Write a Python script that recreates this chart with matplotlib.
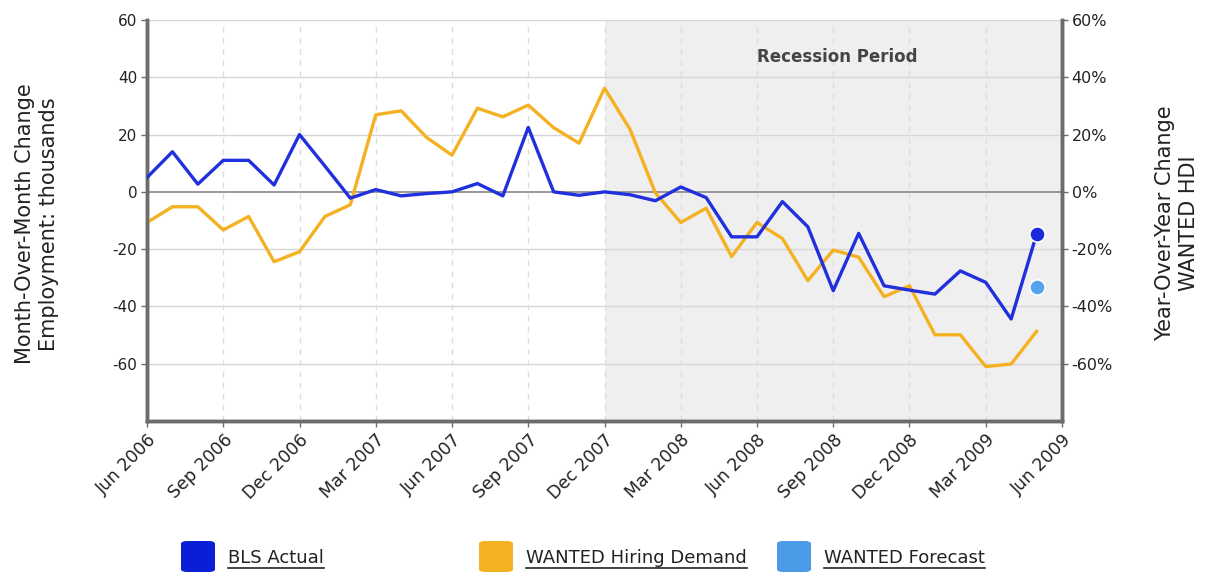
import numpy as np
import matplotlib
matplotlib.use('Agg')
import matplotlib.pyplot as plt
from matplotlib.patches import FancyBboxPatch
from matplotlib.lines import Line2D

# ── Datos (Jun 2006 .. May 2009, mensual) ──────────────────────
months = ['Jun 2006', 'Jul 2006', 'Aug 2006', 'Sep 2006', 'Oct 2006', 'Nov 2006',
          'Dec 2006', 'Jan 2007', 'Feb 2007', 'Mar 2007', 'Apr 2007', 'May 2007',
          'Jun 2007', 'Jul 2007', 'Aug 2007', 'Sep 2007', 'Oct 2007', 'Nov 2007',
          'Dec 2007', 'Jan 2008', 'Feb 2008', 'Mar 2008', 'Apr 2008', 'May 2008',
          'Jun 2008', 'Jul 2008', 'Aug 2008', 'Sep 2008', 'Oct 2008', 'Nov 2008',
          'Dec 2008', 'Jan 2009', 'Feb 2009', 'Mar 2009', 'Apr 2009', 'May 2009']

bls_actual = [5, 14, 2.7, 11, 11, 2.4, 20, 9, -2.2, 0.8, -1.4, -0.6,
              0, 2.9, -1.4, 22.5, 0, -1.2, 0, -1, -3.1, 1.7, -2, -15.7,
              -15.7, -3.4, -12.2, -34.5, -14.5, -32.8, -34.3, -35.7, -27.6, -31.6, -44.4, -14.8]

wanted_hdi = [-10.7, -5.2, -5.2, -13.3, -8.6, -24.4, -20.9, -8.6, -4.5, 26.9, 28.3, 19,
              12.8, 29.2, 26.2, 30.3, 22.4, 17, 36.2, 21.9, -0.3, -10.7, -5.7, -22.6,
              -10.7, -16.3, -31, -20.3, -22.8, -36.6, -32.8, -49.9, -49.9, -61, -60.1, -48.7]

forecast_month = 'May 2009'
forecast_value = -33.1

tick_labels = ['Jun 2006', 'Sep 2006', 'Dec 2006', 'Mar 2007', 'Jun 2007', 'Sep 2007',
               'Dec 2007', 'Mar 2008', 'Jun 2008', 'Sep 2008', 'Dec 2008', 'Mar 2009', 'Jun 2009']
recession_start = 'Dec 2007'

# ── Colores ────────────────────────────────────────────────────
BLUE    = '#1f30dc'
YELLOW  = '#f4b223'
LBLUE   = '#55a2ec'
SHADE   = '#efefef'
GRID_C  = '#d6d6d6'
SPINE_C = '#6c6c6c'
TEXT_C  = '#222222'

FONT = 'DejaVu Sans'
W, H = 1205, 576

x = np.arange(len(months))
tick_pos = np.arange(0, 37, 3)

fig = plt.figure(figsize=(W / 100, H / 100), dpi=100)
ax = fig.add_axes([147/W, 1 - 421/H, (1062 - 147)/W, (421 - 20)/H])
ax2 = ax.twinx()   # eje derecho (%), misma escala

ax.set_xlim(0, 36)
ax.set_ylim(-80, 60)
ax2.set_ylim(-80, 60)

# capa de fondo (ax2): sombreado, grillas y serie amarilla
ax.set_zorder(ax2.get_zorder() + 1)
ax.patch.set_visible(False)
ax2.patch.set_facecolor('white')
rs = months.index(recession_start)
ax2.axvspan(rs, 36, color=SHADE, zorder=0, lw=0)
for yv in [-60, -40, -20, 20, 40, 60]:
    ax2.axhline(yv, color=GRID_C, lw=1, zorder=1)
ax2.axhline(0, color='#888888', lw=1.2, zorder=1)
for xv in tick_pos[1:-1]:
    ax2.axvline(xv, color='#dddddd', lw=1, ls=(0, (4, 4)), zorder=1)
ax2.plot(x, wanted_hdi, color=YELLOW, lw=2.4, zorder=3)

ax.text(rs + 9.15, 47, 'Recession Period', ha='center', va='center',
        fontsize=12, fontweight='bold', color='#444444', fontfamily=FONT)

# serie azul + puntos finales
ax.plot(x, bls_actual, color=BLUE, lw=2.4, zorder=4)
ax.plot(x[-1], bls_actual[-1], 'o', ms=11, color='#1a2ad8', mec='white', mew=1.2, zorder=5)
ax.plot(months.index(forecast_month), forecast_value, 'o', ms=11, color=LBLUE,
        mec='white', mew=1.2, zorder=5)

# ejes
ax.set_xticks(tick_pos)
ax.set_xticklabels(tick_labels, rotation=45, ha='right', rotation_mode='anchor',
                   fontsize=12.5, color=TEXT_C, fontfamily=FONT)
yt = [-60, -40, -20, 0, 20, 40, 60]
ax.set_yticks(yt)
ax.set_yticklabels([str(v) for v in yt], fontsize=11, color=TEXT_C, fontfamily=FONT)
ax2.set_yticks(yt)
ax2.set_yticklabels([f'{v}%' for v in yt], fontsize=11.5, color=TEXT_C, fontfamily=FONT)
for a in (ax, ax2):
    a.tick_params(length=4, width=1, color=SPINE_C, pad=3)
    for side in ['left', 'bottom', 'right']:
        a.spines[side].set_color(SPINE_C)
        a.spines[side].set_linewidth(2.5)
    a.spines['top'].set_visible(False)

fig.text(37/W, 1 - 224/H, 'Month-Over-Month Change\nEmployment: thousands', rotation=90,
         ha='center', va='center', fontsize=15, color=TEXT_C, fontfamily=FONT,
         linespacing=1.3, multialignment='center')
fig.text(1177/W, 1 - 223/H, 'Year-Over-Year Change\nWANTED HDI', rotation=90,
         ha='center', va='center', fontsize=15, color=TEXT_C, fontfamily=FONT,
         linespacing=1.3, multialignment='center')

# leyenda
legend_items = [('BLS Actual', '#0a1ed6', 181), ('WANTED Hiring Demand', YELLOW, 479),
                ('WANTED Forecast', '#4b9ae8', 777)]
fig.canvas.draw()
rend = fig.canvas.get_renderer()
for label, col, px in legend_items:
    fig.patches.append(FancyBboxPatch((px / W, 1 - 572 / H), 34 / W, 31 / H,
                                      boxstyle='round,pad=0,rounding_size=0.005',
                                      transform=fig.transFigure, facecolor=col,
                                      edgecolor=col, lw=0))
    t = fig.text((px + 47) / W, 1 - 563 / H, label, fontsize=13, color=TEXT_C,
                 va='baseline', ha='left', fontfamily=FONT)
    bb = t.get_window_extent(renderer=rend)
    fig.lines.append(Line2D([bb.x0 / W, bb.x1 / W], [1 - 568 / H, 1 - 568 / H],
                            transform=fig.transFigure, color=TEXT_C, lw=1.2))

fig.savefig('out.png', dpi=100, facecolor='white')
